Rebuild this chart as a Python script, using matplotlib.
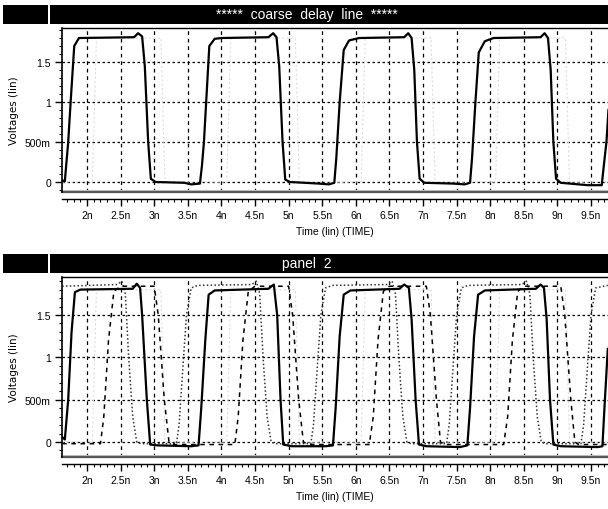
import matplotlib
matplotlib.use("Agg")
import matplotlib.pyplot as plt
from matplotlib.patches import Rectangle
from matplotlib.ticker import MultipleLocator


# time axis (ns) and tick labels
X_TICKS = [2.0, 2.5, 3.0, 3.5, 4.0, 4.5, 5.0, 5.5, 6.0, 6.5, 7.0, 7.5, 8.0, 8.5, 9.0, 9.5]
X_TICK_LABELS = ["2n", "2.5n", "3n", "3.5n", "4n", "4.5n", "5n", "5.5n", "6n",
                 "6.5n", "7n", "7.5n", "8n", "8.5n", "9n", "9.5n"]
Y_TICKS = [0.0, 0.5, 1.0, 1.5]
Y_TICK_LABELS = ["0", "500m", "1", "1.5"]

# panel 1: coarse delay line output (solid)
TOP_T = [1.63, 1.67, 1.72, 1.76, 1.81, 1.88, 2.70, 2.76, 2.82, 2.86, 2.91, 2.95, 3.02,
         3.45, 3.55, 3.68, 3.71, 3.74, 3.78, 3.82, 3.90, 4.00, 4.70, 4.77, 4.82, 4.86,
         4.91, 4.95, 5.02, 5.45, 5.60, 5.68, 5.71, 5.76, 5.82, 5.90, 6.05, 6.72, 6.78,
         6.83, 6.87, 6.91, 6.95, 7.02, 7.45, 7.62, 7.70, 7.73, 7.78, 7.83, 7.92, 8.05,
         8.75, 8.81, 8.86, 8.90, 8.94, 8.98, 9.05, 9.45, 9.66, 9.69, 9.73, 9.76]
TOP_V = [0.02, 0.01, 0.50, 1.05, 1.70, 1.80, 1.81, 1.86, 1.82, 1.45, 0.50, 0.04, 0.00,
         -0.01, -0.03, -0.02, 0.20, 0.50, 1.10, 1.70, 1.79, 1.80, 1.81, 1.86, 1.81, 1.45,
         0.50, 0.03, 0.00, -0.02, -0.03, -0.01, 0.30, 1.00, 1.65, 1.77, 1.80, 1.81, 1.86,
         1.80, 1.40, 0.50, 0.04, -0.01, -0.02, -0.03, -0.01, 0.30, 1.00, 1.62, 1.76, 1.80,
         1.81, 1.86, 1.80, 1.40, 0.50, 0.04, -0.01, -0.04, -0.04, 0.20, 0.50, 0.90]

# faint gray trace visible in both panels
FAINT_T = [1.63, 2.08, 2.14, 3.10, 3.16, 4.08, 4.14, 5.10, 5.16, 6.08, 6.14, 7.12, 7.18,
           8.08, 8.14, 9.12, 9.18, 9.75]
FAINT_V = [0.0, 0.0, 1.8, 1.8, 0.0, 0.0, 1.8, 1.8, 0.0, 0.0, 1.8, 1.8, 0.0,
           0.0, 1.8, 1.8, 0.0, 0.0]

# panel 2: main tap (solid)
BOT_T = [1.63, 1.67, 1.72, 1.77, 1.82, 1.90, 2.68, 2.74, 2.79, 2.82, 2.89, 2.94, 3.05,
         3.55, 3.66, 3.70, 3.76, 3.81, 3.90, 4.70, 4.78, 4.83, 4.88, 4.92, 5.05, 5.55,
         5.66, 5.70, 5.76, 5.82, 5.92, 6.65, 6.72, 6.79, 6.83, 6.89, 6.94, 7.05, 7.55,
         7.66, 7.70, 7.76, 7.82, 7.92, 8.68, 8.75, 8.80, 8.84, 8.89, 8.94, 9.05, 9.60,
         9.67, 9.70, 9.75]
BOT_V = [0.06, 0.03, 0.50, 1.30, 1.77, 1.80, 1.81, 1.87, 1.82, 1.50, 0.50, -0.03, -0.04,
         -0.05, -0.04, 0.40, 1.20, 1.74, 1.79, 1.81, 1.86, 1.50, 0.50, -0.03, -0.05, -0.05,
         -0.04, 0.40, 1.25, 1.74, 1.79, 1.81, 1.86, 1.82, 1.45, 0.50, -0.03, -0.05, -0.06,
         -0.04, 0.40, 1.25, 1.74, 1.79, 1.81, 1.86, 1.82, 1.45, 0.50, -0.03, -0.05, -0.06,
         -0.05, 0.40, 1.10]

# panel 2: dashed tap
DASH_T = [1.63, 2.20, 2.25, 2.32, 2.40, 2.50, 3.00, 3.06, 3.15, 3.22, 3.30, 4.20, 4.25,
          4.32, 4.40, 4.50, 5.00, 5.06, 5.15, 5.22, 5.30, 6.20, 6.26, 6.33, 6.41, 6.50,
          7.05, 7.11, 7.20, 7.26, 7.32, 8.20, 8.26, 8.33, 8.41, 8.50, 9.05, 9.11, 9.20,
          9.26, 9.32, 9.75]
DASH_V = [-0.02, -0.02, 0.30, 1.20, 1.78, 1.84, 1.84, 1.50, 0.50, 0.00, -0.03, -0.03, 0.30,
          1.20, 1.78, 1.84, 1.84, 1.50, 0.50, 0.00, -0.03, -0.03, 0.30, 1.20, 1.78, 1.84,
          1.84, 1.50, 0.50, 0.00, -0.03, -0.03, 0.30, 1.20, 1.78, 1.84, 1.84, 1.50, 0.50,
          0.00, -0.03, -0.03]

# panel 2: dotted tap
DOT_T = [1.63, 2.45, 2.52, 2.57, 2.62, 2.68, 2.74, 2.80, 3.33, 3.37, 3.42, 3.48, 3.55,
         3.65, 4.45, 4.52, 4.57, 4.62, 4.68, 4.74, 4.80, 5.33, 5.37, 5.42, 5.48, 5.55,
         5.65, 6.47, 6.54, 6.59, 6.64, 6.70, 6.76, 6.82, 7.35, 7.39, 7.44, 7.50, 7.57,
         7.67, 8.47, 8.54, 8.59, 8.64, 8.70, 8.76, 8.82, 9.35, 9.39, 9.44, 9.50, 9.57,
         9.75]
DOT_V = [1.84, 1.86, 1.90, 1.75, 1.00, 0.30, 0.00, -0.02, -0.02, 0.20, 0.80, 1.50, 1.82,
         1.85, 1.86, 1.90, 1.75, 1.00, 0.30, 0.00, -0.02, -0.02, 0.20, 0.80, 1.50, 1.82,
         1.85, 1.86, 1.90, 1.75, 1.00, 0.30, 0.00, -0.02, -0.02, 0.20, 0.80, 1.50, 1.82,
         1.85, 1.86, 1.90, 1.75, 1.00, 0.30, 0.00, -0.02, -0.02, 0.20, 0.80, 1.50, 1.82,
         1.85]

NARROW = ["Liberation Sans Narrow", "Liberation Sans", "DejaVu Sans"]


def style_axis(ax, ylim):
    # spine position first: moving a spine resets the tick objects
    ax.spines["right"].set_visible(False)
    ax.spines["top"].set_linewidth(1.0)
    ax.spines["left"].set_linewidth(1.2)
    ax.spines["bottom"].set_position(("outward", 5))
    ax.spines["bottom"].set_linewidth(1.0)

    ax.set_xlim(1.628, 9.753)
    ax.set_ylim(*ylim)
    ax.set_xticks(X_TICKS)
    ax.set_xticklabels(X_TICK_LABELS)
    ax.set_yticks(Y_TICKS)
    ax.set_yticklabels(Y_TICK_LABELS)
    ax.xaxis.set_minor_locator(MultipleLocator(0.1))
    ax.yaxis.set_minor_locator(MultipleLocator(0.1))
    ax.tick_params(which="major", direction="out", length=5, width=1, pad=3,
                   labelsize=7.5, labelfontfamily="Liberation Sans")
    ax.tick_params(which="minor", direction="out", length=2.5, width=0.8)

    # frame bottom edge (gray double line above the ruler)
    ax.plot([0, 1], [0, 0], transform=ax.transAxes, color="#555555",
            linewidth=1.6, clip_on=False)
    ax.plot([0, 1], [0.012, 0.012], transform=ax.transAxes, color="#bbbbbb",
            linewidth=0.8, clip_on=False)
    ax.grid(True, axis="y", color="black", linestyle=(0, (2, 2)), linewidth=0.9)
    ax.grid(True, axis="x", color="black", linestyle=(0, (3, 3)), linewidth=0.9)
    ax.set_axisbelow(True)
    ax.set_ylabel("Voltages (lin)", fontsize=7.5, labelpad=4)
    ax.set_xlabel("Time (lin) (TIME)", fontsize=7.5, family=NARROW, labelpad=4)


fig = plt.figure(figsize=(6.08, 5.10), dpi=100)

top_ax = fig.add_axes([0.102, 0.6216, 0.898, 0.3215])
bot_ax = fig.add_axes([0.102, 0.1020, 0.898, 0.3529])

top_ax.plot(FAINT_T, FAINT_V, color="#dddddd", linewidth=0.8, linestyle=(0, (2, 2)))
top_ax.plot(TOP_T, TOP_V, color="black", linewidth=1.6)
style_axis(top_ax, (-0.125, 1.925))

bot_ax.plot(FAINT_T, FAINT_V, color="#dddddd", linewidth=0.8, linestyle=(0, (2, 2)))
bot_ax.plot(DOT_T, DOT_V, color="#333333", linewidth=1.1, linestyle=(0, (1, 1.5)))
bot_ax.plot(DASH_T, DASH_V, color="black", linewidth=1.1, linestyle=(0, (3, 3)))
bot_ax.plot(BOT_T, BOT_V, color="black", linewidth=1.6)
style_axis(bot_ax, (-0.177, 1.949))

# title bars
for bar_y, title in ((0.951, "*****  coarse  delay  line  *****"), (0.4627, "panel  2")):
    fig.patches.append(Rectangle((0.005, bar_y), 0.074, 0.038, transform=fig.transFigure,
                                 facecolor="black", edgecolor="none"))
    fig.patches.append(Rectangle((0.083, bar_y), 0.917, 0.038, transform=fig.transFigure,
                                 facecolor="black", edgecolor="none"))
    fig.text(0.505, bar_y + 0.019, title, color="white", ha="center", va="center",
             fontsize=10, family=["Liberation Sans", "DejaVu Sans"])

fig.savefig("out.png", dpi=100)
